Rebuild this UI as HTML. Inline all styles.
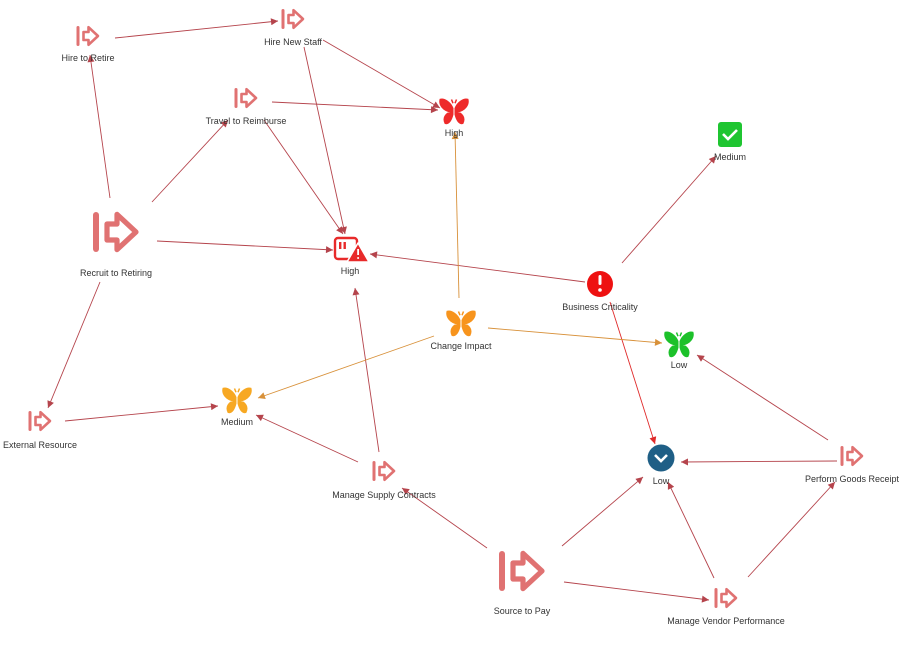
<!DOCTYPE html>
<html><head><meta charset="utf-8"><style>
html,body{margin:0;padding:0;background:#fff;}
svg{display:block;}
text{font-family:"Liberation Sans",sans-serif;font-size:9px;fill:#333;text-anchor:middle;}
</style></head><body>
<svg width="904" height="648" viewBox="0 0 904 648" xmlns="http://www.w3.org/2000/svg">
<defs>
<marker id="ar" viewBox="0 0 10 10" refX="10" refY="5" markerWidth="9" markerHeight="7" orient="auto" markerUnits="userSpaceOnUse"><path d="M0 0L10 5L0 10z" fill="#b5444c"/></marker>
<marker id="ar2" viewBox="0 0 10 10" refX="10" refY="5" markerWidth="9" markerHeight="7" orient="auto" markerUnits="userSpaceOnUse"><path d="M0 0L10 5L0 10z" fill="#e02a2a"/></marker>
<marker id="ao" viewBox="0 0 10 10" refX="10" refY="5" markerWidth="9" markerHeight="7" orient="auto" markerUnits="userSpaceOnUse"><path d="M0 0L10 5L0 10z" fill="#d8913a"/></marker>
<symbol id="proc" viewBox="0 0 24 22">
<rect x="0.5" y="1" width="3" height="20" rx="1.5" fill="#e07272"/>
<path d="M7.5 7H12.5V2.2L22 11L12.5 19.8V15H7.5Z" fill="none" stroke="#e07272" stroke-width="2.6" stroke-linejoin="round"/>
</symbol>
<symbol id="bfly" viewBox="0 0 24 22">
<path d="M11 8C9 3 4 0 1 1C0 5 3 10 10 11C5 12 3 16 5 20C8 21 10 17 11 13Z M13 8C15 3 20 0 23 1C24 5 21 10 14 11C19 12 21 16 19 20C16 21 14 17 13 13Z M11.2 4L10 1 M12.8 4L14 1" stroke-width="1.2" stroke="currentColor" fill="currentColor"/>
</symbol>
</defs>
<g fill="none" stroke="#b5444c" stroke-width="0.9">
<line x1="115" y1="38" x2="278" y2="21" marker-end="url(#ar)"/>
<line x1="323" y1="40" x2="440" y2="108" marker-end="url(#ar)"/>
<line x1="304" y1="47" x2="345" y2="234" marker-end="url(#ar)"/>
<line x1="272" y1="102" x2="438" y2="110" marker-end="url(#ar)"/>
<line x1="264" y1="120" x2="343" y2="234" marker-end="url(#ar)"/>
<line x1="110" y1="198" x2="90" y2="55" marker-end="url(#ar)"/>
<line x1="152" y1="202" x2="228" y2="120" marker-end="url(#ar)"/>
<line x1="157" y1="241" x2="333" y2="250" marker-end="url(#ar)"/>
<line x1="100" y1="282" x2="48" y2="408" marker-end="url(#ar)"/>
<line x1="585" y1="282" x2="370" y2="254" marker-end="url(#ar)"/>
<line x1="622" y1="263" x2="716" y2="156" marker-end="url(#ar)"/>
<line x1="65" y1="421" x2="218" y2="406" marker-end="url(#ar)"/>
<line x1="358" y1="462" x2="256" y2="415" marker-end="url(#ar)"/>
<line x1="379" y1="452" x2="355" y2="288" marker-end="url(#ar)"/>
<line x1="487" y1="548" x2="402" y2="488" marker-end="url(#ar)"/>
<line x1="562" y1="546" x2="643" y2="477" marker-end="url(#ar)"/>
<line x1="564" y1="582" x2="709" y2="600" marker-end="url(#ar)"/>
<line x1="714" y1="578" x2="668" y2="482" marker-end="url(#ar)"/>
<line x1="748" y1="577" x2="835" y2="482" marker-end="url(#ar)"/>
<line x1="828" y1="440" x2="697" y2="355" marker-end="url(#ar)"/>
<line x1="837" y1="461" x2="681" y2="462" marker-end="url(#ar)"/>
<line x1="610" y1="302" x2="655" y2="444" stroke="#e02a2a" marker-end="url(#ar2)"/>
</g>
<g fill="none" stroke="#d8913a" stroke-width="0.9">
<line x1="459" y1="298" x2="455" y2="132" marker-end="url(#ao)"/>
<line x1="488" y1="328" x2="662" y2="343" marker-end="url(#ao)"/>
<line x1="434" y1="336" x2="258" y2="398" marker-end="url(#ao)"/>
</g>
<use href="#proc" x="76" y="25" width="24" height="22"/>
<use href="#proc" x="281" y="8" width="24" height="22"/>
<use href="#proc" x="234" y="87" width="24" height="22"/>
<use href="#proc" x="28" y="410" width="24" height="22"/>
<use href="#proc" x="372" y="460" width="24" height="22"/>
<use href="#proc" x="840" y="445" width="24" height="22"/>
<use href="#proc" x="714" y="587" width="24" height="22"/>
<use href="#proc" x="91" y="210" width="50" height="44"/>
<use href="#proc" x="497" y="549" width="50" height="44"/>
<use href="#bfly" x="439" y="97" width="30" height="30" style="color:#ee2a2a"/>
<use href="#bfly" x="446" y="309" width="30" height="30" style="color:#f7941d"/>
<use href="#bfly" x="664" y="330" width="30" height="30" style="color:#1cc12a"/>
<use href="#bfly" x="222" y="386" width="30" height="30" style="color:#f7a823"/>
<rect x="718" y="122" width="24" height="25" rx="3" fill="#1fc531"/>
<path d="M723 134l5 5l9-9" fill="none" stroke="#fff" stroke-width="2.6"/>
<circle cx="600" cy="284" r="13" fill="#ee1111"/>
<rect x="598.5" y="275" width="3" height="10" rx="1.5" fill="#fff"/><circle cx="600" cy="290" r="1.8" fill="#fff"/>
<circle cx="661" cy="458" r="13.5" fill="#1f5f86"/>
<path d="M655 455l6 6l6-6" fill="none" stroke="#fff" stroke-width="2.6"/>
<rect x="335" y="238" width="22" height="21" rx="3" fill="#fff" stroke="#e82a2a" stroke-width="2.4"/>
<rect x="339" y="242" width="2.4" height="7" fill="#e82a2a"/><rect x="343.5" y="242" width="2.4" height="7" fill="#e82a2a"/>
<path d="M358 243L369 262H347Z" fill="#e82a2a" stroke="#fff" stroke-width="1.5" stroke-linejoin="round"/>
<rect x="357.2" y="249" width="1.8" height="6" fill="#fff"/><circle cx="358.1" cy="258" r="1" fill="#fff"/>
<text x="88" y="61">Hire to Retire</text>
<text x="293" y="45">Hire New Staff</text>
<text x="246" y="124">Travel to Reimburse</text>
<text x="454" y="136">High</text>
<text x="730" y="160">Medium</text>
<text x="116" y="276">Recruit to Retiring</text>
<text x="350" y="274">High</text>
<text x="600" y="310">Business Criticality</text>
<text x="461" y="349">Change Impact</text>
<text x="679" y="368">Low</text>
<text x="40" y="448">External Resource</text>
<text x="237" y="425">Medium</text>
<text x="661" y="484">Low</text>
<text x="852" y="482">Perform Goods Receipt</text>
<text x="384" y="498">Manage Supply Contracts</text>
<text x="522" y="614">Source to Pay</text>
<text x="726" y="624">Manage Vendor Performance</text>
</svg>
</body></html>
